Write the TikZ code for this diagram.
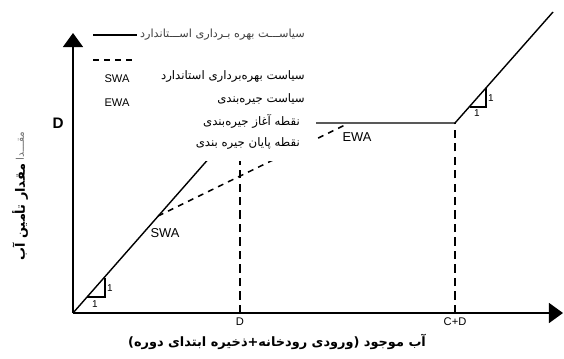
\documentclass[tikz,border=0pt]{standalone}
\usepackage{fontspec}
\setmainfont{Liberation Sans}
\newfontfamily\farsi[Script=Arabic]{DejaVu Sans}
\TeXXeTstate=1
\usetikzlibrary{arrows.meta, positioning}
\tikzstyle{axis} = [line width=1.6pt, -{Triangle[length=12pt, width=17pt]}]
\tikzstyle{policy} = [line width=1.2pt]
\tikzstyle{dashes} = [line width=1.3pt, dash pattern=on 5pt off 4.5pt]
\tikzstyle{guide} = [line width=1.5pt, dash pattern=on 7pt off 4.5pt]
\tikzstyle{fa} = [inner sep=0pt, font=\farsi\fontsize{10}{12}\selectfont]
\tikzstyle{lbl} = [inner sep=0pt, font=\fontsize{11}{13}\selectfont]
\tikzstyle{one} = [inner sep=0pt, font=\fontsize{8.5}{10}\selectfont]
\newcommand{\rtl}[1]{\beginR #1\endR}

\begin{document}
\begin{tikzpicture}[x=0.03cm, y=-0.03cm]
			\useasboundingbox (0, 0) rectangle (564, 358);

			\coordinate (O) at (73, 313);
			\coordinate (Ytop) at (73, 33);
			\coordinate (Xend) at (563, 313);
			\coordinate (KneeD) at (240, 123);
			\coordinate (KneeCD) at (455, 123);
			\coordinate (Top) at (553, 12);
			\coordinate (RationStart) at (158, 216);
			\coordinate (RationEnd) at (345, 125);
			\coordinate (AxD) at (240, 313);
			\coordinate (AxCD) at (455, 313);

			\draw [policy] (O) -- (KneeD) -- (KneeCD) -- (Top);
			\draw [dashes] (RationStart) -- (RationEnd);
			\draw [guide] (AxD) -- (KneeD);
			\draw [guide] (AxCD) -- (KneeCD);

			% legend block covers the curves behind it
			\fill [white] (150, 58) rectangle (316, 161);

			\draw [axis] (O) -- (Ytop);
			\draw [axis] (O) -- (Xend);

			\draw [policy, line width=1.5pt] (87, 297) -- (105, 297) -- (105, 278);
			\node (One1) [one] at (95, 304) {1};
			\node (One2) [one] at (110, 288) {1};
			\draw [policy, line width=1.5pt] (470, 107) -- (486, 107) -- (486, 88);
			\node (One3) [one] at (491, 98) {1};
			\node (One4) [one] at (477, 113) {1};

			\node (SWAlbl) [lbl] at (165, 233) {SWA};
			\node (EWAlbl) [lbl] at (357, 137) {EWA};

			\node (Dy) [inner sep=0pt, font=\bfseries\fontsize{13}{13}\selectfont] at (58, 123) {D};
			\node (Dx) [one, font=\fontsize{9.5}{11}\selectfont] at (240, 322) {D};
			\node (CDx) [one, font=\fontsize{9.5}{11}\selectfont] at (455, 322) {C+D};

			% legend
			\coordinate (SolidA) at (93, 35);
			\coordinate (SolidB) at (137, 35);
			\draw [policy] (SolidA) -- (SolidB);
			\node (Standard) [fa, anchor=east, text=black!75, font=\farsi\fontsize{9.6}{11}\selectfont] at (305, 35) {\rtl{سیاســـت بهره بـرداری اســـتاندارد}};
			\coordinate (DashA) at (93, 60);
			\coordinate (DashB) at (137, 60);
			\draw [dashes] (DashA) -- (DashB);
			\node (SWAkey) [one, font=\fontsize{9.5}{11}\selectfont] at (117, 79) {SWA};
			\node (EWAkey) [one, font=\fontsize{9.5}{11}\selectfont] at (117, 103) {EWA};

			\node (Key1) [fa, anchor=east] at (305, 76) {\rtl{سیاست بهره‌برداری استاندارد}};
			\node (Key2) [fa, anchor=east] at (305, 99) {\rtl{سیاست جیره‌بندی}};
			\node (Key3) [fa, anchor=east] at (300, 121) {\rtl{نقطه آغاز جیره‌بندی}};
			\node (Key4) [fa, anchor=east] at (300, 143) {\rtl{نقطه پایان جیره بندی}};

			% axis titles
			\node (Xtitle) [fa, font=\farsi\bfseries\fontsize{11}{13}\selectfont] at (277, 342) {\rtl{آب موجود (ورودی رودخانه+ذخیره ابتدای دوره)}};
			\node (Ytitle) [fa, rotate=90, font=\farsi\bfseries\fontsize{11}{13}\selectfont] at (20, 212) {\rtl{مقدار تأمین آب}};
			\node (Yghost) [fa, rotate=90, text=black!55, font=\farsi\fontsize{9}{11}\selectfont] at (20, 146) {\rtl{مقـــدا}};
		\end{tikzpicture}
\end{document}
